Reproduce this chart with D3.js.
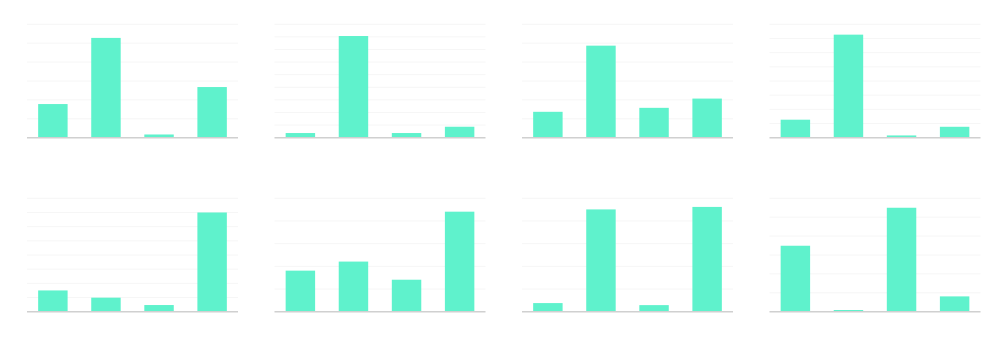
<!DOCTYPE html>
<html>
<head>
<meta charset="utf-8">
<script src="https://cdn.jsdelivr.net/npm/d3@7"></script>
<style>
  html, body { margin: 0; padding: 0; background: #fff; }
  svg { display: block; font-family: "Noto Sans", sans-serif; }
</style>
</head>
<body>
<svg id="chart" width="990" height="348"></svg>
<script>
// Categories shared by every small multiple
const categories = ["A", "B", "C", "D"];

// Series values, one array per panel
const panel1 = [17.8, 52.8, 1.7, 26.8];
const panel2 = [0.37, 8.07, 0.37, 0.87];
const panel3 = [13.7, 48.7, 15.8, 20.7];
const panel4 = [1.27, 7.27, 0.16, 0.77];
const panel5 = [1.5, 0.99, 0.47, 7.0];
const panel6 = [18.1, 22.1, 14.1, 44.1];
const panel7 = [0.38, 4.51, 0.29, 4.62];
const panel8 = [34.9, 0.9, 55.0, 8.1];

// Gridline tick values for each panel's y axis
const ticks1 = [0, 10, 20, 30, 40, 50, 60];
const ticks2 = [0, 1, 2, 3, 4, 5, 6, 7, 8, 9];
const ticks3 = [0, 10, 20, 30, 40, 50, 60];
const ticks4 = [0, 1, 2, 3, 4, 5, 6, 7, 8];
const ticks5 = [0, 1, 2, 3, 4, 5, 6, 7, 8];
const ticks6 = [0, 10, 20, 30, 40, 50];
const ticks7 = [0, 1, 2, 3, 4, 5];
const ticks8 = [0, 10, 20, 30, 40, 50, 60];

const panels = [
  { values: panel1, ticks: ticks1 },
  { values: panel2, ticks: ticks2 },
  { values: panel3, ticks: ticks3 },
  { values: panel4, ticks: ticks4 },
  { values: panel5, ticks: ticks5 },
  { values: panel6, ticks: ticks6 },
  { values: panel7, ticks: ticks7 },
  { values: panel8, ticks: ticks8 }
];

const W = 990, H = 348, cols = 4, rows = 2;
const cellW = W / cols, cellH = H / rows;
const margin = { top: 24.3, right: 9.5, bottom: 36.3, left: 27 };
const innerW = cellW - margin.left - margin.right;
const innerH = cellH - margin.top - margin.bottom;

const svg = d3.select("#chart");

const x = d3.scaleBand()
  .domain(categories)
  .range([0, innerW])
  .paddingInner(0.445)
  .paddingOuter(0.21);

panels.forEach((p, i) => {
  const c = i % cols, r = Math.floor(i / cols);
  const g = svg.append("g")
    .attr("transform", `translate(${c * cellW + margin.left},${r * cellH + margin.top})`);

  const y = d3.scaleLinear()
    .domain([0, d3.max(p.ticks)])
    .range([innerH, 0]);

  // gridlines
  g.append("g")
    .selectAll("line")
    .data(p.ticks.filter(t => t > 0))
    .join("line")
    .attr("x1", 0).attr("x2", innerW)
    .attr("y1", d => y(d)).attr("y2", d => y(d))
    .attr("stroke", "#f6f6f6")
    .attr("stroke-width", 1);

  // bars
  g.append("g")
    .selectAll("rect")
    .data(p.values.map((v, k) => ({ cat: categories[k], v })))
    .join("rect")
    .attr("x", d => x(d.cat))
    .attr("width", x.bandwidth())
    .attr("y", d => y(d.v))
    .attr("height", d => innerH - y(d.v))
    .attr("fill", "#5ff2cc");

  // baseline axis
  g.append("line")
    .attr("x1", 0).attr("x2", innerW)
    .attr("y1", innerH).attr("y2", innerH)
    .attr("stroke", "#d0d0d0")
    .attr("stroke-width", 1.5);
});
</script>
</body>
</html>
